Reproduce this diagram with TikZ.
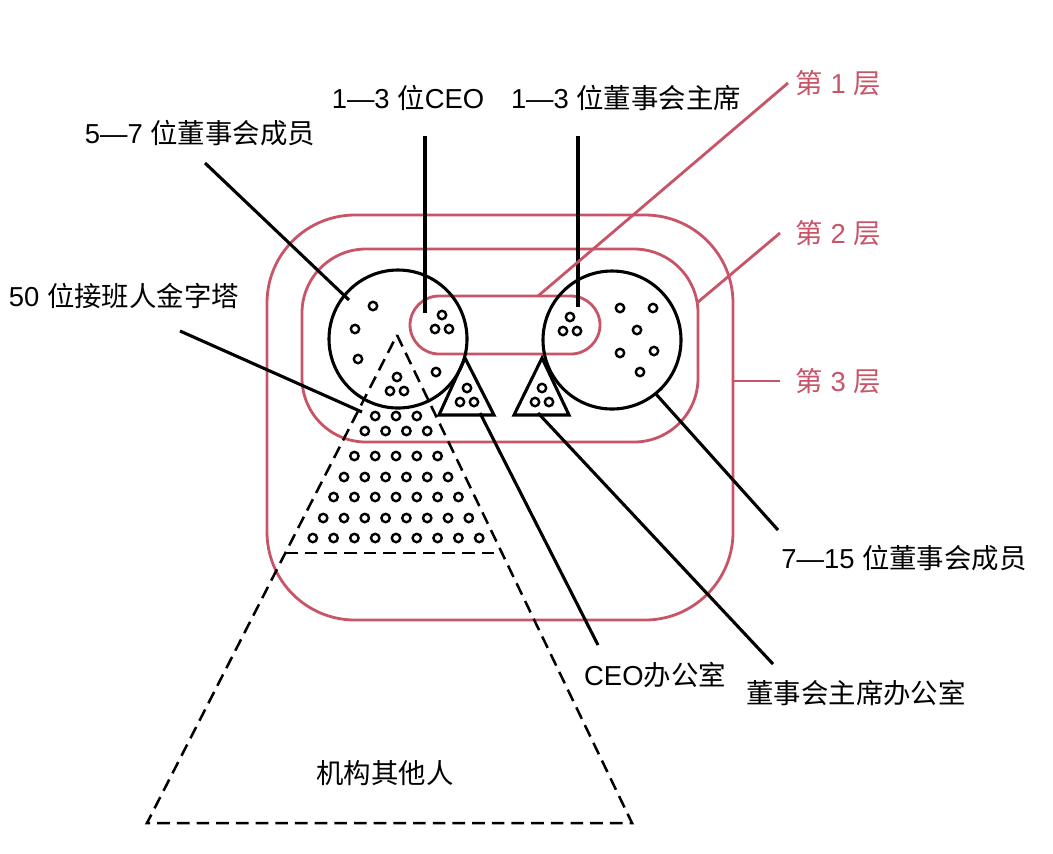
\documentclass[tikz,border=0pt]{standalone}
\usepackage{fontspec}
\setmainfont{Noto Sans CJK SC}
\newfontfamily\lat{Liberation Sans}
\usepackage{tikz}
\usetikzlibrary{shapes}
\definecolor{layerpink}{RGB}{200,84,104}
\tikzstyle{member} = [circle, draw=black, line width=2.2pt, minimum size=34.5mm, inner sep=0pt]
\tikzstyle{layer} = [draw=layerpink, line width=2pt]
\tikzstyle{lead} = [draw=black, line width=2.2pt]
\tikzstyle{office} = [draw=black, line width=2.2pt, line join=miter]
\tikzstyle{pyramid} = [draw=black, line width=1.8pt, dash pattern=on 9pt off 5pt]
\tikzstyle{person} = [draw=black, line width=1.7pt]
\tikzstyle{caption} = [text=black, inner sep=0pt]
\tikzstyle{layertag} = [text=layerpink, anchor=west, inner sep=1.8mm]
\newcommand{\seat}[2]{\draw[person] ({#1},{#2}) circle [radius=1.05mm];}
\newcommand{\trio}[2]{\foreach \dx/\dy in {0/-7,-7/7,7/7} {\draw[person] ({#1+\dx},{#2+\dy}) circle [radius=1.05mm];}}

\begin{document}
\begin{tikzpicture}[x=0.25mm, y=-0.25mm, font=\fontsize{19.5}{23}\selectfont] % pixel grid of the sketch
\useasboundingbox (0,0) rectangle (1053,853);

% The three layers
\draw[layer, rounded corners=22mm] (267,215) rectangle (733,620);
\draw[layer, rounded corners=16mm] (302,249) rectangle (698,442);
\draw[layer, rounded corners=7.3mm] (410,296) rectangle (600,354);

% Board circles and offices
\node(boardL)  [member] at (398,339) {};
\node(boardR)  [member] at (612,340) {};
\draw[office] (465,358) -- (494,415) -- (439,415) -- cycle;
\draw[office] (542,358) -- (569,415) -- (514,415) -- cycle;

% Pyramid of the organisation
\draw[pyramid] (397,335) -- (632,823) -- (147,823) -- cycle;
\draw[pyramid] (285,553) -- (502,553);

% People
\seat{373}{306} \seat{355}{329} \seat{358}{359} \seat{436}{372}
\seat{620}{308} \seat{653}{308} \seat{637}{330} \seat{620}{353} \seat{654}{351} \seat{640}{372}
\trio{442}{322} \trio{570}{324} \trio{397}{384} \trio{467}{395} \trio{542}{395}
\foreach \n/\y in {3/416,4/431,5/456,6/477,7/497,8/518,9/538}
  \foreach \i in {1,...,\n}
    {\seat{396+(\i-(\n+1)/2)*20.8}{\y}}

% Black labels
\node(tag57)    [caption] at (200,133) {{\lat 5—7 }位董事会成员};
\node(tagceo)   [caption] at (408,98)  {{\lat 1—3 }位{\lat CEO}};
\node(tagchair) [caption] at (626,98)  {{\lat 1—3 }位董事会主席};
\node(tag50)    [caption] at (124,296) {{\lat 50 }位接班人金字塔};
\node(tag715)   [caption] at (904,558) {{\lat 7—15 }位董事会成员};
\node(tagoff1)  [caption] at (655,675) {{\lat CEO}办公室};
\node(tagoff2)  [caption] at (856,693) {董事会主席办公室};
\node(tagrest)  [caption] at (385,773) {机构其他人};

\coordinate (s57) at (205,163);    \coordinate (e57) at (349,300);
\coordinate (sceo) at (425,136);   \coordinate (eceo) at (425,313);
\coordinate (schair) at (578,136); \coordinate (echair) at (578,307);
\coordinate (s50) at (180,331);    \coordinate (e50) at (362,412);
\coordinate (s715) at (778,530);   \coordinate (e715) at (655,393);
\coordinate (soff1) at (598,645);  \coordinate (eoff1) at (480,413);
\coordinate (soff2) at (773,664);  \coordinate (eoff2) at (538,413);

\draw[lead] (s57)    -- (e57);
\draw[lead] (sceo)   -- (eceo);
\draw[lead] (schair) -- (echair);
\draw[lead] (s50)    -- (e50);
\draw[lead] (s715)   -- (e715);
\draw[lead] (soff1)  -- (eoff1);
\draw[lead] (soff2)  -- (eoff2);

% Layer tags
\node(lay1) [layertag] at (788,83)  {第{\lat\ 1 }层};
\node(lay2) [layertag] at (788,233) {第{\lat\ 2 }层};
\node(lay3) [layertag] at (788,381) {第{\lat\ 3 }层};
\coordinate (p1) at (538,296);
\coordinate (p2) at (698,302);
\coordinate (p3) at (733,381);
\draw[layer] (p1) -- (lay1.west);
\draw[layer] (p2) -- ([xshift=-2mm]lay2.west);
\draw[layer] (p3) -- ([xshift=-2mm]lay3.west);

\end{tikzpicture}
\end{document}
